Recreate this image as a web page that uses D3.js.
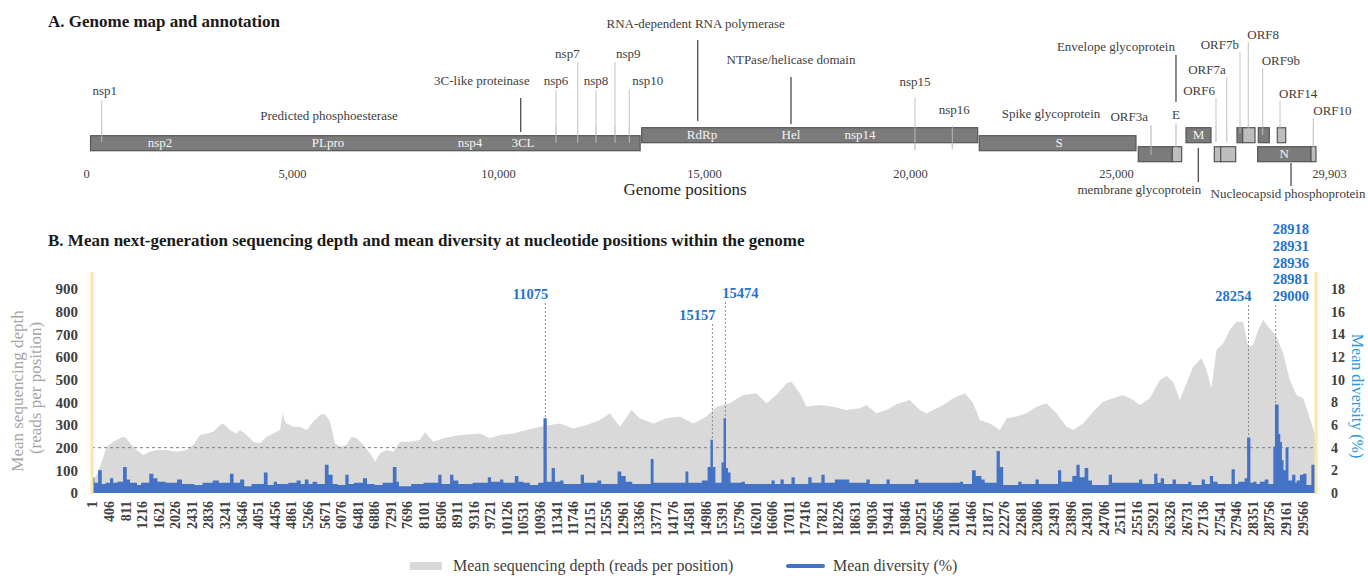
<!DOCTYPE html>
<html>
<head>
<meta charset="utf-8">
<script src="https://cdn.jsdelivr.net/npm/d3@7"></script>
<style>
  html, body { margin: 0; padding: 0; background: #fff; }
  svg text { font-family: "Liberation Serif", "DejaVu Serif", serif; }
</style>
</head>
<body>
<div id="chart"></div>
<script>
// ================= data =================
// Panel A: genes (genome positions)
const geneNames = ["ORF1a", "ORF1b", "S", "ORF3a", "E", "M", "ORF6", "ORF7a", "ORF7b", "ORF8", "ORF9b", "ORF14", "N", "ORF10"];
const geneStart = [110, 13488, 21682, 25541, 26366, 26699, 27386, 27541, 27937, 28075, 28454, 28915, 28439, 29733];
const geneEnd   = [13450, 21643, 25485, 26366, 26594, 27306, 27541, 27905, 28075, 28374, 28721, 29119, 29733, 29854];

// labels printed inside the bars
const domainNames = ["nsp2", "PLpro", "nsp4", "3CL", "RdRp", "Hel", "nsp14", "S", "M", "N"];
const domainPos   = [1796, 5874, 9320, 10607, 14951, 17112, 18786, 23617, 27002, 29085];

// callouts with leader lines
const calloutText = ["nsp1", "3C-like proteinase", "nsp6", "nsp7", "nsp8", "nsp9", "nsp10",
  "RNA-dependent RNA polymerase", "NTPase/helicase domain", "nsp15", "nsp16",
  "Envelope glycoprotein", "E", "ORF3a", "ORF6", "ORF7a", "ORF7b", "ORF8", "ORF9b", "ORF14", "ORF10",
  "membrane glycoprotein", "Nucleocapsid phosphoprotein"];
const calloutPos = [381, 10551, 11408, 11934, 12379, 12840, 13187, 14847, 17112, 20121, 21027,
  26456, 26456, 25850, 27427, 27687, 28010, 28211, 28561, 28981, 29789, 26998, 29248];

// free text on the map
const noteText = ["Predicted phosphoesterase", "Spike glycoprotein"];
const notePos = [5898, 23422];

const mapTicks = [0, 5000, 10000, 15000, 20000, 25000, 29903];

// Panel B: mean sequencing depth (reads per position)
const depthPos = [1, 60, 196, 359, 521, 684, 766, 850, 929, 1092, 1254, 1418, 1580, 1825, 2069, 2313, 2476, 2639, 2802, 2965,
  3128, 3210, 3372, 3535, 3617, 3780, 3943, 4105, 4268, 4431, 4594, 4659, 4720, 4919, 5082, 5245, 5408, 5570, 5692, 5815,
  5937, 6059, 6222, 6344, 6466, 6629, 6792, 6914, 7036, 7199, 7362, 7524, 7769, 8013, 8135, 8339, 8583, 8990, 9478, 9722,
  9967, 10292, 10618, 10944, 11188, 11432, 11758, 12083, 12409, 12653, 12898, 13183, 13386, 13712, 14037, 14363, 14689, 15014, 15258, 15584,
  15909, 16235, 16479, 16723, 16968, 17090, 17293, 17456, 17782, 18107, 18433, 18759, 18921, 19166, 19410, 19655, 19981, 20225, 20388, 20551,
  20795, 21039, 21325, 21528, 21691, 21935, 22180, 22343, 22587, 22831, 23075, 23320, 23564, 23808, 23971, 24215, 24459, 24704, 24948, 25192,
  25436, 25599, 25843, 26088, 26251, 26413, 26576, 26739, 26902, 27105, 27227, 27350, 27472, 27635, 27798, 27961, 28123, 28245, 28368, 28490,
  28612, 28734, 28938, 29101, 29264, 29427, 29590, 29753, 29875, 29903];
const depthVal = [20, 60, 116, 204, 226, 241, 248, 240, 219, 190, 168, 182, 190, 190, 182, 190, 212, 256, 263, 270,
  300, 307, 278, 263, 278, 256, 226, 219, 248, 263, 278, 352, 310, 292, 292, 278, 315, 344, 348, 315,
  219, 204, 212, 248, 241, 212, 175, 138, 175, 190, 182, 226, 226, 234, 268, 226, 241, 256, 263, 241,
  256, 263, 278, 292, 300, 307, 285, 300, 322, 352, 292, 366, 330, 307, 330, 337, 307, 337, 381, 396,
  432, 440, 396, 432, 484, 491, 440, 381, 388, 381, 366, 374, 388, 352, 366, 392, 410, 366, 352, 366,
  388, 418, 440, 396, 322, 307, 278, 330, 337, 352, 381, 396, 352, 292, 278, 307, 359, 403, 418, 432,
  410, 388, 418, 498, 516, 491, 410, 484, 557, 594, 543, 462, 631, 660, 719, 756, 756, 645, 653, 719,
  763, 734, 690, 616, 498, 432, 418, 330, 263, 250];

// Panel B: mean diversity (%), step breakpoints
const divPos = [1, 12, 60, 150, 240, 330, 440, 520, 620, 760, 850, 930, 1100, 1200, 1400, 1500, 1600, 1800, 2080, 2200,
  2500, 2700, 2950, 3100, 3370, 3460, 3620, 3720, 3900, 4200, 4290, 4440, 4520, 4800, 5000, 5100, 5200, 5290, 5390, 5500,
  5690, 5780, 5880, 6000, 6190, 6270, 6400, 6620, 6720, 6900, 7100, 7350, 7440, 7500, 7800, 8100, 8460, 8540, 8750, 8830,
  8950, 9300, 9670, 9750, 9970, 10050, 10330, 10420, 10540, 10700, 10900, 11030, 11110, 11230, 11310, 11430, 11520, 11940, 12020, 12350,
  12440, 12840, 12930, 13040, 13200, 13650, 13720, 14080, 14500, 14570, 14700, 14900, 15040, 15110, 15170, 15230, 15380, 15430, 15490, 15540,
  15600, 15870, 15950, 16600, 16680, 16820, 16900, 17090, 17170, 17500, 17580, 17820, 17900, 18150, 18500, 18920, 19000, 19410, 19490, 20100,
  20190, 20630, 21200, 21280, 21500, 21590, 21730, 21810, 22100, 22180, 22260, 22630, 22710, 23050, 23130, 23600, 23680, 23950, 24050, 24130,
  24250, 24340, 24430, 24840, 24920, 25580, 25660, 25950, 26030, 26110, 26190, 26400, 26480, 26780, 26860, 27110, 27190, 27310, 27390, 27500,
  27840, 27920, 28000, 28160, 28220, 28300, 28370, 28450, 28530, 28650, 28740, 28860, 28900, 28990, 29030, 29070, 29110, 29160, 29230, 29320,
  29400, 29430, 29510, 29590, 29670, 29790, 29903];
const divVal = [16.7, 1.4, 0.9, 2.0, 0.8, 0.9, 1.3, 0.9, 1.0, 2.3, 1.2, 0.9, 0.7, 0.9, 1.7, 1.3, 1.0, 0.9, 1.2, 0.8,
  0.7, 0.9, 1.1, 0.9, 1.7, 0.9, 1.2, 0.6, 0.8, 1.8, 0.7, 1.0, 0.8, 0.9, 1.1, 0.8, 1.2, 0.8, 1.0, 0.8,
  2.5, 1.6, 0.8, 0.7, 1.6, 0.8, 0.9, 1.3, 0.8, 0.7, 0.9, 2.3, 1.0, 0.6, 0.8, 0.9, 1.6, 0.8, 1.6, 1.1,
  0.8, 0.9, 1.4, 1.0, 1.2, 0.9, 1.5, 1.0, 0.9, 0.7, 0.9, 6.6, 1.0, 2.2, 1.0, 1.1, 0.8, 1.6, 0.9, 1.1,
  0.8, 1.9, 1.5, 1.0, 0.8, 3.0, 0.9, 0.9, 1.9, 0.9, 0.9, 1.1, 2.3, 4.7, 2.3, 0.9, 2.7, 6.6, 2.2, 1.8,
  0.9, 1.0, 0.8, 1.1, 0.8, 1.2, 0.8, 1.4, 0.8, 1.4, 0.9, 1.6, 0.9, 1.2, 0.9, 1.2, 0.8, 1.2, 0.8, 1.2,
  0.9, 0.9, 1.0, 0.8, 2.0, 1.5, 1.2, 0.9, 3.7, 2.3, 0.7, 1.0, 0.8, 1.2, 0.8, 2.0, 1.0, 1.5, 2.5, 1.4,
  2.2, 1.1, 0.7, 1.6, 0.9, 1.2, 0.8, 1.7, 0.9, 1.3, 0.8, 1.2, 0.8, 1.0, 0.7, 1.2, 0.8, 1.5, 1.0, 0.8,
  2.1, 0.8, 1.0, 1.3, 4.9, 0.9, 1.0, 0.8, 1.0, 1.2, 0.8, 4.1, 7.8, 5.2, 4.5, 2.9, 2.0, 4.0, 1.1, 1.6,
  0.9, 1.1, 1.6, 1.7, 0.7, 2.5, 2.5];

// highlighted positions
const peakPos = [11075, 15157, 15474, 28254, 28918];
const peakLabels = [["11075"], ["15157"], ["15474"], ["28254"], ["28918", "28931", "28936", "28981", "29000"]];

const depthTicks = [0, 100, 200, 300, 400, 500, 600, 700, 800, 900];
const divTicks = [0, 2, 4, 6, 8, 10, 12, 14, 16, 18];
const positionTicks = [1, 406, 811, 1216, 1621, 2026, 2431, 2836, 3241, 3646, 4051, 4456, 4861, 5266, 5671, 6076, 6481, 6886, 7291,
  7696, 8101, 8506, 8911, 9316, 9721, 10126, 10531, 10936, 11341, 11746, 12151, 12556, 12961, 13366, 13771, 14176, 14581,
  14986, 15391, 15796, 16201, 16606, 17011, 17416, 17821, 18226, 18631, 19036, 19441, 19846, 20251, 20656, 21061, 21466,
  21871, 22276, 22681, 23086, 23491, 23896, 24301, 24706, 25111, 25516, 25921, 26326, 26731, 27136, 27541, 27946, 28351,
  28756, 29161, 29566];

// ================= layout =================
const width = 1368, height = 576;
const rowTop = { A: 135.7, B: 127.7, C: 146.7 };
const geneRow = ["A", "B", "A", "C", "C", "B", "C", "C", "B", "B", "B", "B", "C", "C"];
const lightGenes = new Set(["E", "ORF6", "ORF7a", "ORF8", "ORF14", "ORF10"]);
const domainRow = ["A", "A", "A", "A", "B", "B", "B", "A", "B", "C"];
// [label baseline, line top, line bottom, anchor, dx, line tone]
const calloutLayout = [
  [95, 100, 142, "middle", 3, "light"],
  [85, 98, 132, "end", 9, "dark"],
  [85, 90, 143, "middle", 0, "light"],
  [58, 62, 143, "end", 2, "light"],
  [85, 90, 143, "middle", 0, "light"],
  [58, 62, 143, "start", 1, "light"],
  [85, 90, 143, "start", 3, "light"],
  [28, 40, 121, "middle", -2, "dark"],
  [64, 77, 124, "middle", 0, "dark"],
  [86, 97, 150, "middle", 0, "light"],
  [114, 126, 149, "middle", 2, "light"],
  [51, 55, 102, "end", -1, "dark"],
  [119, 123, 158, "middle", 0, "light"],
  [121, 125, 155, "end", -3, "light"],
  [95, 98, 142, "end", -1, "light"],
  [74, 77, 142, "end", -1, "light"],
  [49, 52, 133, "end", -1, "light"],
  [39, 42, 132, "start", -1, "light"],
  [65, 68, 135, "start", -1, "light"],
  [98, 101, 128, "start", -1, "light"],
  [115, 118, 152, "start", 0, "light"],
  [194, 148, 182, "end", 3, "dark"],
  [198, 163, 186, "middle", -3, "dark"]
];
const noteY = [120, 118];
const peakBaseline = [299, 320, 298, 301, 301];
const peakAnchor = ["end", "end", "start", "end", "start"];

const svg = d3.select("#chart").append("svg")
  .attr("width", width)
  .attr("height", height)
  .attr("viewBox", [0, 0, width, height]);

// ================= Panel A =================
svg.append("text")
  .attr("x", 48).attr("y", 26.5)
  .attr("font-size", "17px").attr("font-weight", "bold").attr("fill", "#1a1a1a")
  .text("A. Genome map and annotation");

const xMap = d3.scaleLinear().domain([0, 29903]).range([86, 1318]);
const barH = 15;

const mapG = svg.append("g");

// leader lines under everything
mapG.append("g").selectAll("line")
  .data(calloutText)
  .join("line")
  .attr("x1", (d, i) => xMap(calloutPos[i]))
  .attr("x2", (d, i) => xMap(calloutPos[i]))
  .attr("y1", (d, i) => calloutLayout[i][1])
  .attr("y2", (d, i) => calloutLayout[i][2])
  .attr("stroke", (d, i) => calloutLayout[i][5] === "dark" ? "#4d4d4d" : "#c9c9c9")
  .attr("stroke-width", (d, i) => calloutLayout[i][5] === "dark" ? 1.3 : 1.1);

mapG.append("g").selectAll("rect")
  .data(geneNames)
  .join("rect")
  .attr("x", (d, i) => xMap(geneStart[i]))
  .attr("y", (d, i) => rowTop[geneRow[i]])
  .attr("width", (d, i) => xMap(geneEnd[i]) - xMap(geneStart[i]))
  .attr("height", barH)
  .attr("fill", d => lightGenes.has(d) ? "#bdbdbd" : "#7b7b7b")
  .attr("stroke", "#555")
  .attr("stroke-width", 1.2);

// light leader lines that run over bars
mapG.append("g").selectAll("line")
  .data(calloutText.filter((d, i) => calloutLayout[i][5] === "light"))
  .join("line")
  .attr("x1", d => xMap(calloutPos[calloutText.indexOf(d)]))
  .attr("x2", d => xMap(calloutPos[calloutText.indexOf(d)]))
  .attr("y1", d => Math.max(calloutLayout[calloutText.indexOf(d)][1], 126))
  .attr("y2", d => calloutLayout[calloutText.indexOf(d)][2])
  .attr("stroke", "#c9c9c9")
  .attr("stroke-opacity", 0.8)
  .attr("stroke-width", 1);

mapG.append("g").selectAll("text")
  .data(domainNames)
  .join("text")
  .attr("x", (d, i) => xMap(domainPos[i]))
  .attr("y", (d, i) => rowTop[domainRow[i]] + 11)
  .attr("text-anchor", "middle")
  .attr("font-size", "13px")
  .attr("fill", "#f4f4f4")
  .text(d => d);

mapG.append("g").selectAll("text")
  .data(calloutText)
  .join("text")
  .attr("x", (d, i) => xMap(calloutPos[i]) + calloutLayout[i][4])
  .attr("y", (d, i) => calloutLayout[i][0])
  .attr("text-anchor", (d, i) => calloutLayout[i][3])
  .attr("font-size", "13px")
  .attr("fill", "#404040")
  .text(d => d);

mapG.append("g").selectAll("text")
  .data(noteText)
  .join("text")
  .attr("x", (d, i) => xMap(notePos[i]))
  .attr("y", (d, i) => noteY[i])
  .attr("text-anchor", "middle")
  .attr("font-size", "13px")
  .attr("fill", "#404040")
  .text(d => d);

const mapAxis = mapG.append("g")
  .attr("transform", "translate(0,166)")
  .call(d3.axisBottom(xMap).tickValues(mapTicks).tickFormat(d3.format(",")).tickSize(0).tickPadding(3));
mapAxis.select(".domain").remove();
mapAxis.selectAll("text")
  .attr("font-size", "12.5px")
  .attr("fill", "#404040")
  .attr("font-family", "Liberation Serif, serif");
mapAxis.selectAll(".tick").filter(d => d === 29903).select("text").attr("dx", 11);

mapG.append("text")
  .attr("x", 685).attr("y", 195)
  .attr("text-anchor", "middle")
  .attr("font-size", "17px")
  .attr("fill", "#262626")
  .text("Genome positions");

// ================= Panel B =================
svg.append("text")
  .attr("x", 48).attr("y", 246)
  .attr("font-size", "17px").attr("font-weight", "bold").attr("fill", "#1a1a1a")
  .text("B. Mean next-generation sequencing depth and mean diversity at nucleotide positions within the genome");

const x = d3.scaleLinear().domain([1, 29903]).range([92, 1316]);
const yDepth = d3.scaleLinear().domain([0, 900]).range([493, 289]);
const yDiv = d3.scaleLinear().domain([0, 18]).range([493, 289]);

const plot = svg.append("g");

plot.append("path")
  .attr("d", d3.area()
    .x(i => x(depthPos[i]))
    .y0(yDepth(0))
    .y1(i => yDepth(depthVal[i]))(d3.range(depthPos.length)))
  .attr("fill", "#d9d9d9");

plot.append("line")
  .attr("x1", x(1)).attr("x2", x(29903))
  .attr("y1", yDepth(200)).attr("y2", yDepth(200))
  .attr("stroke", "#7f7f7f")
  .attr("stroke-width", 1)
  .attr("stroke-dasharray", "3,3");

plot.append("path")
  .attr("d", d3.area()
    .curve(d3.curveStepAfter)
    .x(i => x(divPos[i]))
    .y0(yDiv(0))
    .y1(i => yDiv(divVal[i]))(d3.range(divPos.length)))
  .attr("fill", "#4472c4");

// axis lines (pale yellow)
plot.selectAll(".vaxis")
  .data([x(1), x(29903)])
  .join("line")
  .attr("x1", d => d).attr("x2", d => d)
  .attr("y1", 272).attr("y2", 494)
  .attr("stroke", "#fde6ae")
  .attr("stroke-width", 3);

// annotations
function divAt(p) {
  const i = d3.bisectRight(divPos, p) - 1;
  return divVal[Math.max(0, i)];
}
const ann = plot.append("g");
peakPos.forEach((p, i) => {
  const px = x(p);
  ann.append("line")
    .attr("x1", px).attr("x2", px)
    .attr("y1", peakBaseline[i] + 4)
    .attr("y2", yDiv(divAt(p)))
    .attr("stroke", "#8c8c8c")
    .attr("stroke-width", 1)
    .attr("stroke-dasharray", "2,2");
  const lines = peakLabels[i];
  ann.append("g").selectAll("text")
    .data(lines)
    .join("text")
    .attr("x", peakAnchor[i] === "end" ? px + 3 : px - 3)
    .attr("y", (d, j) => peakBaseline[i] - (lines.length - 1 - j) * 16.7)
    .attr("text-anchor", peakAnchor[i])
    .attr("font-size", "14.5px")
    .attr("font-weight", "bold")
    .attr("fill", "#1f74cf")
    .text(d => d);
});

// axes
const leftAxis = svg.append("g")
  .attr("transform", `translate(${x(1)},0)`)
  .call(d3.axisLeft(yDepth).tickValues(depthTicks).tickSize(0).tickPadding(14));
leftAxis.select(".domain").remove();
leftAxis.selectAll("text")
  .attr("font-size", "15px").attr("font-weight", "bold").attr("fill", "#404040")
  .attr("font-family", "Liberation Serif, serif");

const rightAxis = svg.append("g")
  .attr("transform", `translate(${x(29903)},0)`)
  .call(d3.axisRight(yDiv).tickValues(divTicks).tickSize(0).tickPadding(15));
rightAxis.select(".domain").remove();
rightAxis.selectAll("text")
  .attr("font-size", "14px").attr("font-weight", "bold").attr("fill", "#404040")
  .attr("font-family", "Liberation Serif, serif");

const bottomAxis = svg.append("g")
  .attr("transform", `translate(0,${yDepth(0)})`)
  .call(d3.axisBottom(x).tickValues(positionTicks).tickFormat(d => d).tickSize(0));
bottomAxis.select(".domain").remove();
bottomAxis.selectAll("text")
  .attr("transform", "rotate(-90)")
  .attr("text-anchor", "end")
  .attr("x", -8).attr("y", 0).attr("dy", "0.35em")
  .attr("font-size", "14px").attr("font-weight", "bold").attr("fill", "#404040")
  .attr("font-family", "Liberation Serif, serif");

// axis titles
const leftTitle = svg.append("g").attr("fill", "#a6a6a6").attr("font-size", "17px");
leftTitle.append("text")
  .attr("transform", "translate(23,391) rotate(-90)")
  .attr("text-anchor", "middle")
  .text("Mean sequencing depth");
leftTitle.append("text")
  .attr("transform", "translate(41,388) rotate(-90)")
  .attr("text-anchor", "middle")
  .text("(reads per position)");

svg.append("text")
  .attr("transform", "translate(1352,396) rotate(90)")
  .attr("text-anchor", "middle")
  .attr("font-size", "16px")
  .attr("fill", "#2e97de")
  .text("Mean diversity (%)");

// legend
const legend = svg.append("g");
legend.append("rect")
  .attr("x", 410).attr("y", 562).attr("width", 32).attr("height", 8)
  .attr("fill", "#d9d9d9");
legend.append("text")
  .attr("x", 453).attr("y", 571)
  .attr("font-size", "16px").attr("fill", "#404040")
  .text("Mean sequencing depth (reads per position)");
legend.append("line")
  .attr("x1", 788).attr("x2", 823).attr("y1", 566).attr("y2", 566)
  .attr("stroke", "#4472c4").attr("stroke-width", 4).attr("stroke-linecap", "round");
legend.append("text")
  .attr("x", 833).attr("y", 571)
  .attr("font-size", "16px").attr("fill", "#404040")
  .text("Mean diversity (%)");
</script>
</body>
</html>
